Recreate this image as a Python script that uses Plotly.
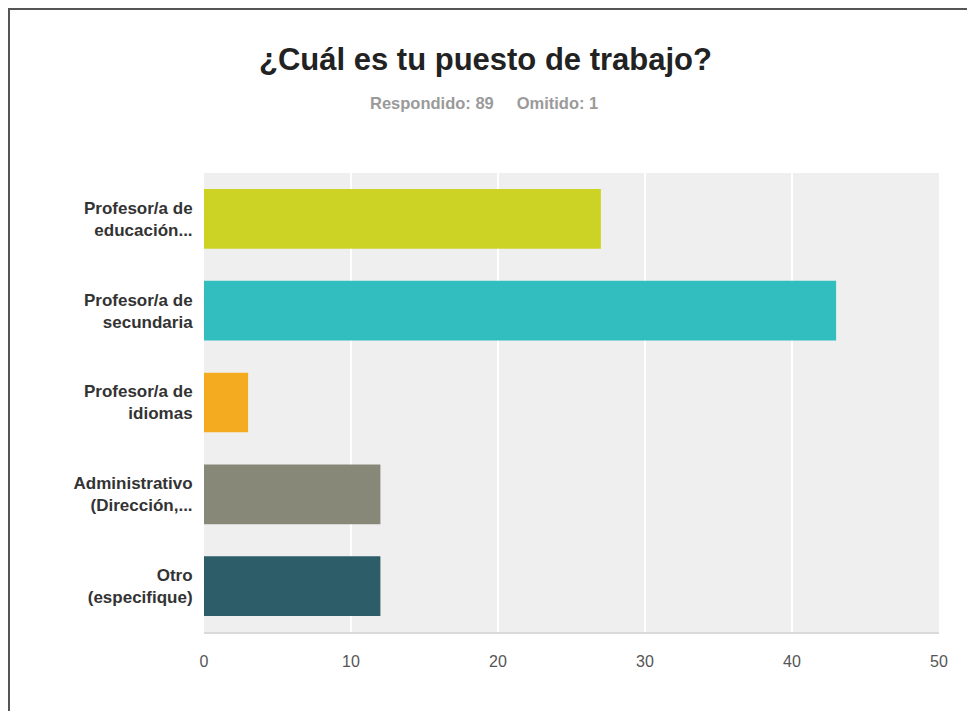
import plotly.graph_objects as go

categories = ["Profesor/a de<br>educación...", "Profesor/a de<br>secundaria", "Profesor/a de<br>idiomas",
              "Administrativo<br>(Dirección,...", "Otro<br>(especifique)"]
values = [27, 43, 3, 12, 12]
colors = ["#cdd325", "#32bdbf", "#f5ab1f", "#878878", "#2c5d68"]
x_ticks = [0, 10, 20, 30, 40, 50]

W, H = 967, 711
L, R, T, B = 204, 28, 173, 79
pw, ph = W - L - R, H - T - B

def px(x):
    return (x - L) / pw

def py(y):
    return (H - B - y) / ph

fig = go.Figure(go.Bar(
    x=values, y=categories, orientation="h",
    marker=dict(color=colors, line=dict(width=0)),
    hoverinfo="skip",
))

fig.update_layout(
    width=W, height=H,
    margin=dict(l=L, r=R, t=T, b=B),
    paper_bgcolor="white", plot_bgcolor="#efefef",
    bargap=0.35,
    showlegend=False,
    font=dict(family="Liberation Sans, Arial, sans-serif"),
    xaxis=dict(range=[0, 50], tickvals=x_ticks, showgrid=True, gridcolor="white", gridwidth=2,
               zeroline=False, showline=True, linecolor="#dadada", linewidth=2,
               tickfont=dict(size=16, color="#555555"), ticks="outside", ticklen=14, tickcolor="rgba(0,0,0,0)",
               fixedrange=True),
    yaxis=dict(categoryorder="array", categoryarray=categories[::-1], autorange=True,
               tickmode="array", tickvals=categories, ticktext=["<b>" + c + "</b>" for c in categories],
               tickfont=dict(size=17, color="#333333"), ticks="outside", ticklen=7,
               tickcolor="rgba(0,0,0,0)", showgrid=False, zeroline=False, fixedrange=True),
    annotations=[
        dict(text="<b>¿Cuál es tu puesto de trabajo?</b>", x=px(485), y=py(60), xref="paper", yref="paper",
             showarrow=False, font=dict(size=31, color="#222222"), xanchor="center", yanchor="middle"),
        dict(text="<b>Respondido: 89     Omitido: 1</b>", x=px(484), y=py(103), xref="paper", yref="paper",
             showarrow=False, font=dict(size=16.5, color="#9a9a9a"), xanchor="center", yanchor="middle"),
    ],
    shapes=[
        dict(type="line", xref="paper", yref="paper", x0=px(8), x1=px(967), y0=py(9), y1=py(9),
             line=dict(color="#555555", width=2)),
        dict(type="line", xref="paper", yref="paper", x0=px(9), x1=px(9), y0=py(8), y1=py(711),
             line=dict(color="#555555", width=2)),
    ],
)

fig.write_html("out.html", config={"displayModeBar": False})
